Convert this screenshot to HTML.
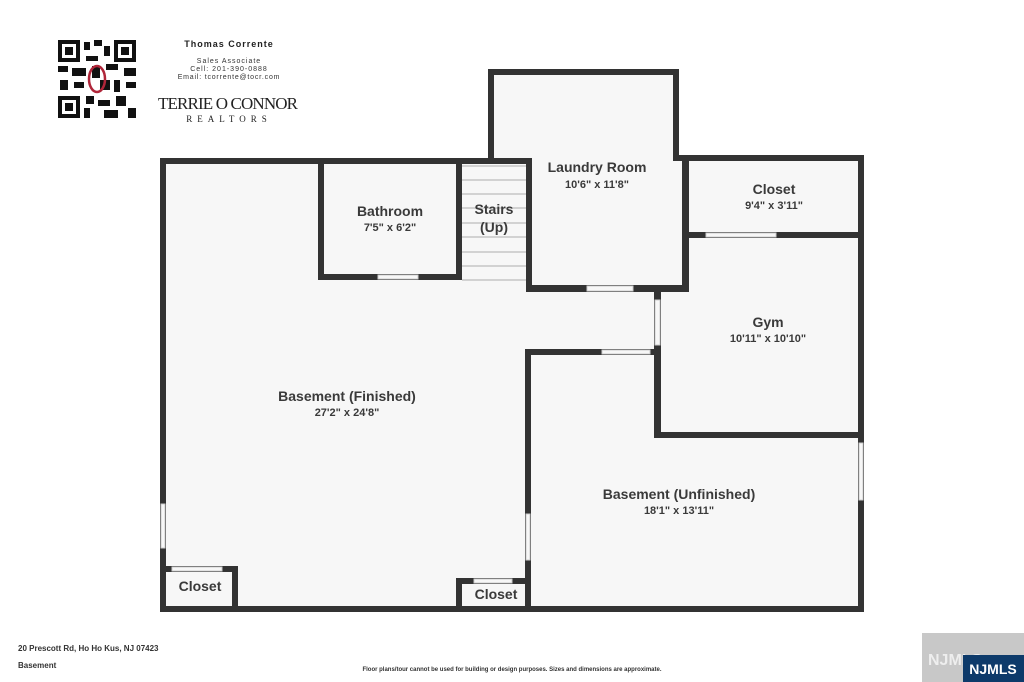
<!DOCTYPE html>
<html><head><meta charset="utf-8"><style>
body{margin:0;background:#fff;width:1024px;height:682px;overflow:hidden;font-family:"Liberation Sans",sans-serif}
svg{position:absolute;left:0;top:0}
</style></head><body>
<svg width="1024" height="682" viewBox="0 0 1024 682" xmlns="http://www.w3.org/2000/svg" font-family="Liberation Sans, sans-serif">
<rect width="1024" height="682" fill="#fff"/>
<!-- QR -->
<g fill="#111">
<rect x="58" y="40" width="78" height="78" fill="#fff"/>
<rect x="58" y="40" width="22" height="22"/><rect x="62" y="44" width="14" height="14" fill="#fff"/><rect x="65" y="47" width="8" height="8"/>
<rect x="114" y="40" width="22" height="22"/><rect x="118" y="44" width="14" height="14" fill="#fff"/><rect x="121" y="47" width="8" height="8"/>
<rect x="58" y="96" width="22" height="22"/><rect x="62" y="100" width="14" height="14" fill="#fff"/><rect x="65" y="103" width="8" height="8"/>
<rect x="84" y="42" width="6" height="8"/><rect x="94" y="40" width="8" height="6"/><rect x="104" y="46" width="6" height="10"/><rect x="86" y="56" width="12" height="5"/>
<rect x="58" y="66" width="10" height="6"/><rect x="72" y="68" width="14" height="8"/><rect x="92" y="66" width="8" height="12"/><rect x="106" y="64" width="12" height="6"/><rect x="124" y="68" width="12" height="8"/>
<rect x="60" y="80" width="8" height="10"/><rect x="74" y="82" width="10" height="6"/><rect x="100" y="80" width="10" height="10"/><rect x="114" y="80" width="6" height="12"/><rect x="126" y="82" width="10" height="6"/>
<rect x="86" y="96" width="8" height="8"/><rect x="98" y="100" width="12" height="6"/><rect x="116" y="96" width="10" height="10"/><rect x="84" y="108" width="6" height="10"/><rect x="104" y="110" width="14" height="8"/><rect x="128" y="108" width="8" height="10"/>
</g>
<ellipse cx="97" cy="79" rx="8" ry="13" fill="none" stroke="#b0263a" stroke-width="2.5"/>
<text x="229" y="47" font-size="9" font-weight="bold" text-anchor="middle" fill="#222" letter-spacing="1">Thomas Corrente</text>
<text x="229" y="63" font-size="7" text-anchor="middle" fill="#333" letter-spacing="1">Sales Associate</text>
<text x="229" y="71" font-size="7" text-anchor="middle" fill="#333" letter-spacing="1">Cell: 201-390-0888</text>
<text x="229" y="79" font-size="7" text-anchor="middle" fill="#333" letter-spacing="0.8">Email: tcorrente@tocr.com</text>
<text x="228" y="109" font-size="17" text-anchor="middle" fill="#222" font-family="Liberation Serif, serif" textLength="140">TERRIE O CONNOR</text>
<text x="229" y="122" font-size="9" text-anchor="middle" fill="#222" font-family="Liberation Serif, serif" letter-spacing="5">REALTORS</text>

<!-- floors -->
<g fill="#f7f7f7">
<rect x="163" y="161" width="698" height="448"/>
<rect x="491" y="72" width="185" height="92"/>
</g>
<!-- stairs lines -->
<g stroke="#bbb" stroke-width="1.2">
<line x1="462" y1="166" x2="526" y2="166"/><line x1="462" y1="180" x2="526" y2="180"/><line x1="462" y1="194" x2="526" y2="194"/><line x1="462" y1="208" x2="526" y2="208"/><line x1="462" y1="223" x2="526" y2="223"/><line x1="462" y1="237" x2="526" y2="237"/><line x1="462" y1="252" x2="526" y2="252"/><line x1="462" y1="266" x2="526" y2="266"/><line x1="462" y1="280" x2="526" y2="280"/>
</g>
<!-- walls -->
<g fill="#333">
<rect x="160" y="158" width="372" height="6"/>
<rect x="488" y="69" width="191" height="6"/>
<rect x="488" y="69" width="6" height="95"/>
<rect x="673" y="69" width="6" height="92"/>
<rect x="673" y="155" width="191" height="6"/>
<rect x="160" y="158" width="6" height="454"/>
<rect x="858" y="155" width="6" height="457"/>
<rect x="160" y="606" width="704" height="6"/>
<!-- bathroom -->
<rect x="318" y="161" width="6" height="119"/>
<rect x="456" y="161" width="6" height="119"/>
<rect x="318" y="274" width="144" height="6"/>
<!-- laundry -->
<rect x="526" y="158" width="6" height="134"/>
<rect x="526" y="285" width="163" height="7"/>
<rect x="682" y="158" width="7" height="134"/>
<!-- closet right -->
<rect x="682" y="232" width="182" height="6"/>
<!-- gym -->
<rect x="654" y="285" width="7" height="153"/>
<rect x="654" y="432" width="210" height="6"/>
<!-- unfinished -->
<rect x="525" y="349" width="136" height="6"/>
<rect x="525" y="349" width="6" height="263"/>
<!-- closets -->
<rect x="160" y="566" width="78" height="6"/>
<rect x="232" y="566" width="6" height="46"/>
<rect x="456" y="578" width="75" height="6"/>
<rect x="456" y="578" width="6" height="34"/>
</g>
<!-- openings -->
<g fill="#f7f7f7" stroke="#ccc" stroke-width="1">
<rect x="378" y="275" width="40" height="4"/>
<rect x="587" y="286" width="46" height="5"/>
<rect x="706" y="233" width="70" height="4"/>
<rect x="655" y="300" width="5" height="45"/>
<rect x="602" y="350" width="48" height="4"/>
<rect x="526" y="514" width="4" height="46"/>
<rect x="172" y="567" width="50" height="4"/>
<rect x="474" y="579" width="38" height="4"/>
<rect x="161" y="504" width="4" height="44"/>
<rect x="859" y="443" width="4" height="57"/>
</g>
<!-- labels -->
<g fill="#3a3a3a" text-anchor="middle" font-weight="bold">
<text x="597" y="172" font-size="14">Laundry Room</text>
<text x="597" y="188" font-size="11">10'6" x 11'8"</text>
<text x="390" y="216" font-size="14">Bathroom</text>
<text x="390" y="231" font-size="11">7'5" x 6'2"</text>
<text x="494" y="214" font-size="14">Stairs</text>
<text x="494" y="232" font-size="14">(Up)</text>
<text x="774" y="194" font-size="14">Closet</text>
<text x="774" y="209" font-size="11">9'4" x 3'11"</text>
<text x="768" y="327" font-size="14">Gym</text>
<text x="768" y="342" font-size="11">10'11" x 10'10"</text>
<text x="347" y="401" font-size="14">Basement (Finished)</text>
<text x="347" y="416" font-size="11">27'2" x 24'8"</text>
<text x="679" y="499" font-size="14">Basement (Unfinished)</text>
<text x="679" y="514" font-size="11">18'1" x 13'11"</text>
<text x="200" y="591" font-size="14">Closet</text>
<text x="496" y="599" font-size="14">Closet</text>
</g>
<text x="18" y="651" font-size="8" font-weight="bold" fill="#333">20 Prescott Rd, Ho Ho Kus, NJ 07423</text>
<text x="18" y="668" font-size="8" font-weight="bold" fill="#333">Basement</text>
<text x="512" y="671" font-size="6" font-weight="bold" fill="#333" text-anchor="middle">Floor plans/tour cannot be used for building or design purposes. Sizes and dimensions are approximate.</text>
<!-- NJMLS -->
<rect x="922" y="633" width="102" height="49" fill="#c8c8c8"/>
<text x="928" y="665" font-size="16" font-weight="bold" fill="#eee">NJMLS</text>
<rect x="963" y="655" width="61" height="27" fill="#0d3a6a"/>
<text x="993" y="674" font-size="14" font-weight="bold" fill="#fff" text-anchor="middle">NJMLS</text>
</svg>
</body></html>
